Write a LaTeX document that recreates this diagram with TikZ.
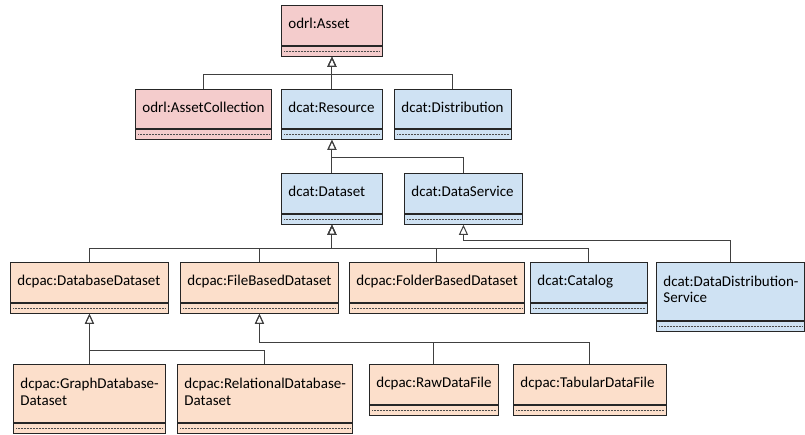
\documentclass[tikz,border=0pt]{standalone}
\usepackage{fontspec}
\setmainfont{Carlito}
\usetikzlibrary{arrows.meta}
\definecolor{odrlpink}{HTML}{F4CCCC}
\definecolor{dcatblue}{HTML}{CFE2F3}
\definecolor{dcpacpeach}{HTML}{FCDFCB}
\tikzset{
  clsname/.style={draw=black!85, line width=0.9pt, anchor=north west, inner xsep=7pt, inner ysep=0pt, align=left},
  clsbot/.style={draw=black!85, line width=0.9pt, anchor=north west, inner sep=0pt, minimum height=10pt},
  dotline/.style={black!70, line width=0.5pt, densely dotted},
  inh/.style={draw=black!75, line width=1pt, -{Triangle[open, width=9pt, length=10pt, line width=1pt]}}
}
% name, x, y (top), width, height of name compartment, colour, text
\newcommand\umlcls[7]{%
  \node[clsname, fill=#6, minimum width=#4pt, text width=#4pt-14pt, minimum height=#5pt] (#1) at (#2,#3)
    {\fontsize{15}{16.5}\selectfont\begin{tabular}{@{}l@{}}#7\end{tabular}};
  \node[clsbot, fill=#6, minimum width=#4pt] (#1-b) at (#1.south west) {};
  \draw[dotline] ([xshift=3pt]#1-b.west) -- ([xshift=-3pt]#1-b.east);
}
\begin{document}
\begin{tikzpicture}[x=1pt, y=-1pt]
\useasboundingbox (0,0) rectangle (805,435);
\umlcls{asset}{281}{5}{101}{40}{odrlpink}{odrl:Asset}
\umlcls{coll}{135}{89}{136}{39}{odrlpink}{odrl:AssetCollection}
\umlcls{res}{281}{89}{101}{39}{dcatblue}{dcat:Resource}
\umlcls{dist}{394}{89}{117}{39}{dcatblue}{dcat:Distribution}
\umlcls{dataset}{281}{173}{101}{40}{dcatblue}{dcat:Dataset}
\umlcls{dserv}{404}{173}{118}{40}{dcatblue}{dcat:DataService}
\umlcls{dbds}{10}{262}{158}{40}{dcpacpeach}{dcpac:DatabaseDataset}
\umlcls{fbds}{180}{262}{158}{40}{dcpacpeach}{dcpac:FileBasedDataset}
\umlcls{folds}{349}{262}{175}{40}{dcpacpeach}{dcpac:FolderBasedDataset}
\umlcls{catalog}{530}{262}{117}{40}{dcatblue}{dcat:Catalog}
\umlcls{dds}{656}{262}{148}{58}{dcatblue}{dcat:DataDistribution-\\Service}
\umlcls{graph}{13}{364}{152}{58}{dcpacpeach}{dcpac:GraphDatabase-\\Dataset}
\umlcls{rel}{177}{364}{175}{58}{dcpacpeach}{dcpac:RelationalDatabase-\\Dataset}
\umlcls{raw}{369}{364}{129}{40}{dcpacpeach}{dcpac:RawDataFile}
\umlcls{tab}{513}{364}{153}{40}{dcpacpeach}{dcpac:TabularDataFile}
% bus levels
\coordinate (busA) at (0,75);
\coordinate (busR) at (0,158);
\coordinate (busD) at (0,249);
\coordinate (busS) at (0,241);
\coordinate (busDB) at (0,350);
\coordinate (busFB) at (0,342);
% inheritance connectors
\draw[inh] (coll.north) |- (busA -| asset-b.south) -- (asset-b.south);
\draw[inh] (dist.north) |- (busA -| asset-b.south) -- (asset-b.south);
\draw[inh] (res.north) -- (asset-b.south);
\draw[inh] (dserv.north) |- (busR -| res-b.south) -- (res-b.south);
\draw[inh] (dataset.north) -- (res-b.south);
\draw[inh] (dbds.north) |- (busD -| dataset-b.south) -- (dataset-b.south);
\draw[inh] (fbds.north) |- (busD -| dataset-b.south) -- (dataset-b.south);
\draw[inh] (folds.north) |- (busD -| dataset-b.south) -- (dataset-b.south);
\draw[inh] (catalog.north) |- (busD -| dataset-b.south) -- (dataset-b.south);
\draw[inh] (dds.north) |- (busS -| dserv-b.south) -- (dserv-b.south);
\draw[inh] (graph.north) -- (dbds-b.south);
\draw[inh] (rel.north) |- (busDB -| dbds-b.south) -- (dbds-b.south);
\draw[inh] (raw.north) |- (busFB -| fbds-b.south) -- (fbds-b.south);
\draw[inh] (tab.north) |- (busFB -| fbds-b.south) -- (fbds-b.south);
\end{tikzpicture}
\end{document}
